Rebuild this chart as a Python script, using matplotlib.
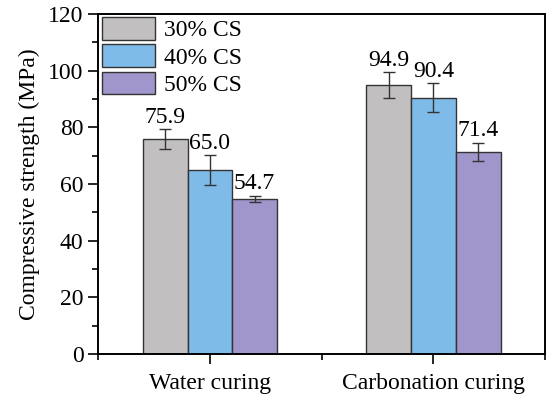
import numpy as np
import matplotlib.pyplot as plt
from matplotlib.ticker import MultipleLocator, FixedLocator

plt.rcParams['font.family'] = ['Liberation Serif', 'DejaVu Serif']

curing = ['Water curing', 'Carbonation curing']
series = ['30% CS', '40% CS', '50% CS']
strength = [
    [75.9, 94.9],
    [65.0, 90.4],
    [54.7, 71.4],
]
errors = [
    [3.5, 4.5],
    [5.2, 5.1],
    [1.2, 3.2],
]
colors = ['#c1bfc0', '#7ebbe8', '#a096cb']

fig = plt.figure(figsize=(5.48, 4.0), dpi=100)
ax = fig.add_axes([0.179, 0.115, 0.816, 0.85])

centers = np.array([1.0, 3.0])
width = 0.4
for i, name in enumerate(series):
    xs = centers + (i - 1) * width
    ax.bar(xs, strength[i], width, color=colors[i], edgecolor='#333333',
           linewidth=1.0, label=name, zorder=2)
    ax.errorbar(xs, strength[i], yerr=errors[i], fmt='none', ecolor='#333333',
                elinewidth=1.0, capsize=4, capthick=1.0, zorder=3)
    for x, v, e in zip(xs, strength[i], errors[i]):
        ax.text(x, v + e + 0.5, f'{v:.1f}', ha='center', va='bottom',
                fontsize=17)

ax.set_xlim(0, 4)
ax.set_ylim(0, 120)
ax.set_xticks(centers)
ax.set_xticklabels(curing, fontsize=17)
ax.xaxis.set_minor_locator(FixedLocator([0, 2, 4]))
ax.yaxis.set_major_locator(MultipleLocator(20))
ax.yaxis.set_minor_locator(MultipleLocator(10))
ax.tick_params(axis='y', which='major', labelsize=17, length=7, width=1.2)
ax.tick_params(axis='y', which='minor', length=4, width=1.2)
ax.tick_params(axis='x', which='major', length=7, width=1.2, pad=7)
ax.tick_params(axis='x', which='minor', length=4, width=1.2)
for s in ax.spines.values():
    s.set_linewidth(1.4)

ax.set_ylabel('Compressive strength (MPa)', fontsize=17, labelpad=6)

ax.legend(loc='upper left', bbox_to_anchor=(0.005, 0.995), frameon=False,
          fontsize=17, handlelength=2.25, handleheight=1.1,
          labelspacing=0.13, handletextpad=0.4, borderaxespad=0.0,
          borderpad=0.05)

fig.savefig('out.png', dpi=100)
